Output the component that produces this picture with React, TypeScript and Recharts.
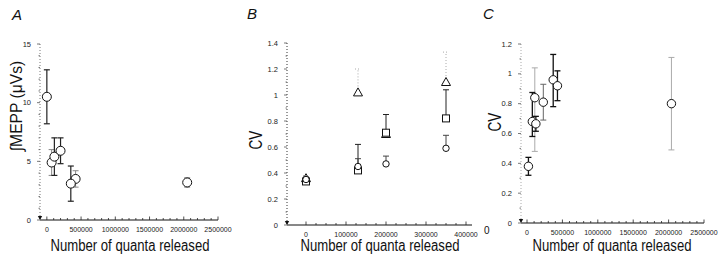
import { ErrorBar, Scatter, ScatterChart, XAxis, YAxis } from "recharts";

// ---- Panel A: integrated MEPP vs quanta released ----
const aQuantaDark = [0, 110000, 200000, 350000];
const aMeppDark = [10.5, 5.4, 5.9, 3.1];
const aErrDark = [2.3, 1.6, 1.1, 1.5];
const aQuantaLight = [70000, 420000, 2050000];
const aMeppLight = [4.9, 3.5, 3.2];
const aErrLight = [1.1, 0.7, 0.4];
const aXLabels = [0, 500000, 1000000, 1500000, 2000000, 2500000];
const aYLabels = [0, 5, 10, 15];

// ---- Panel B: CV, three symbol groups, upward error only ----
const bQuanta = [0, 130000, 200000, 350000];
const bCircle = [0.35, 0.45, 0.47, 0.59];
const bCircleErr = [0.02, 0.06, 0.06, 0.1];
const bSquare = [0.335, 0.42, 0.71, 0.82];
const bSquareErr = [0.02, 0.2, 0.14, 0.22];
const bTriangle = [0.36, 1.02, 0.7, 1.1];
const bTriangleErr = [0.02, 0.18, 0.03, 0.23];
const bXLabels = [0, 100000, 200000, 300000, 400000];
const bYLabels = [0, 0.2, 0.4, 0.6, 0.8, 1, 1.2, 1.4];

// ---- Panel C: CV vs quanta released ----
const cQuantaDark = [20000, 75000, 125000, 370000, 430000];
const cCvDark = [0.38, 0.68, 0.665, 0.96, 0.92];
const cErrDark = [[0.06, 0.06], [0.1, 0.195], [0.05, 0.05], [0.18, 0.17], [0.1, 0.1]];
const cQuantaGray = [230000];
const cCvGray = [0.81];
const cErrGray = [[0.12, 0.12]];
const cQuantaLight = [110000, 2040000];
const cCvLight = [0.84, 0.8];
const cErrLight = [[0.36, 0.2], [0.31, 0.31]];
const cXLabels = [0, 500000, 1000000, 1500000, 2000000, 2500000];
const cYLabels = [0, 0.2, 0.4, 0.6, 0.8, 1, 1.2];

const SANS = "'Liberation Sans', Arial, Helvetica, sans-serif";

const zip = (xs: number[], ys: number[], es: (number | number[])[]) =>
  xs.map((x, i) => ({ x, y: ys[i], err: es[i] }));

const upOnly = (es: number[]) => es.map((e) => [0, e]);

// minor tick positions (axis decoration only)
function steps(from: number, to: number, step: number) {
  const out: number[] = [];
  for (let v = from; v <= to + step / 1000; v += step) out.push(Math.round(v * 1000) / 1000);
  return out;
}

const isIn = (list: number[], v: number) => list.some((l) => Math.abs(l - v) < 1e-6);
const fmtY = (v: number) => String(Math.round(v * 10) / 10);

function XTick(props: any) {
  const { x, y, payload, labels } = props;
  const major = isIn(labels, payload.value);
  return (
    <g>
      <line x1={x} x2={x} y1={y} y2={y - (major ? 3.5 : 2)} stroke="#222" strokeWidth={0.8} />
      {major && (
        <text x={x} y={y + 12} textAnchor="middle" fontSize={7} fontFamily={SANS} fill="#222">
          {payload.value}
        </text>
      )}
    </g>
  );
}

function YTick(props: any) {
  const { x, y, payload, labels } = props;
  const v = payload.value;
  const major = isIn(labels, v);
  return (
    <g>
      <line x1={x} x2={x - (major ? 3 : 1.5)} y1={y} y2={y} stroke="#555" strokeWidth={0.8} />
      {major && (
        <text x={x - 9} y={y + 2.5} textAnchor="end" fontSize={7.5} fontFamily={SANS} fill="#222">
          {fmtY(v)}
        </text>
      )}
      {v === 0 && <polygon points={`${x - 2.2},${y - 4} ${x + 2.2},${y - 4} ${x},${y}`} fill="#111" />}
    </g>
  );
}

const circle = (r: number) => (p: any) =>
  <circle cx={p.cx} cy={p.cy} r={r} fill="#fff" stroke="#111" strokeWidth={1} />;

const square = (p: any) =>
  <rect x={p.cx - 3.5} y={p.cy - 3.5} width={7} height={7} fill="#fff" stroke="#111" strokeWidth={1} />;

const triangle = (p: any) =>
  <polygon
    points={`${p.cx},${p.cy - 4.5} ${p.cx + 4.5},${p.cy + 3.5} ${p.cx - 4.5},${p.cy + 3.5}`}
    fill="#fff"
    stroke="#111"
    strokeWidth={1}
  />;

const W = 720;
const H = 268;
const layer = { position: "absolute" as const, left: 0, top: 0 };

function label(text: string, left: number, top: number, style: any = {}) {
  return (
    <div style={{ position: "absolute", left, top, whiteSpace: "nowrap", lineHeight: 1, color: "#111", ...style }}>
      {text}
    </div>
  );
}

// tall, condensed axis titles like the scanned figure
const xTitle = { fontSize: 16, transform: "translateX(-50%) scaleX(0.82)" };
const yTitle = (sx: number) => ({ transform: `translate(-50%, -50%) rotate(-90deg) scaleX(${sx})` });

export default function App() {
  return (
    <div style={{ position: "absolute", left: 0, top: 0, width: W, height: H, background: "#fff", fontFamily: SANS }}>
      {/* A */}
      <div style={layer}>
        <ScatterChart width={W} height={H} margin={{ top: 44, right: 502, bottom: 18, left: 10 }}>
          <XAxis
            type="number"
            dataKey="x"
            domain={[-100000, 2500000]}
            allowDataOverflow
            ticks={steps(0, 2500000, 100000)}
            interval={0}
            tickSize={0}
            tickMargin={0}
            height={30}
            axisLine={{ stroke: "#111", strokeWidth: 1 }}
            tickLine={false}
            tick={<XTick labels={aXLabels} />}
          />
          <YAxis
            type="number"
            dataKey="y"
            domain={[0, 15]}
            allowDataOverflow
            ticks={steps(0, 15, 1)}
            interval={0}
            tickSize={0}
            tickMargin={0}
            width={30}
            axisLine={{ stroke: "#777", strokeDasharray: "1 2" }}
            tickLine={false}
            tick={<YTick labels={aYLabels} />}
          />
          <Scatter data={zip(aQuantaLight, aMeppLight, aErrLight)} shape={circle(4.5)} isAnimationActive={false}>
            <ErrorBar dataKey="err" direction="y" width={3} stroke="#888" strokeWidth={1} />
          </Scatter>
          <Scatter data={zip(aQuantaDark, aMeppDark, aErrDark)} shape={circle(4.5)} isAnimationActive={false}>
            <ErrorBar dataKey="err" direction="y" width={3} stroke="#222" strokeWidth={1.2} />
          </Scatter>
        </ScatterChart>
      </div>

      {/* B */}
      <div style={layer}>
        <ScatterChart width={W} height={H} margin={{ top: 43, right: 248, bottom: 13, left: 257 }}>
          <XAxis
            type="number"
            dataKey="x"
            domain={[-47500, 415000]}
            allowDataOverflow
            ticks={steps(0, 400000, 25000)}
            interval={0}
            tickSize={0}
            tickMargin={0}
            height={30}
            axisLine={{ stroke: "#111", strokeWidth: 1 }}
            tickLine={false}
            tick={<XTick labels={bXLabels} />}
          />
          <YAxis
            type="number"
            dataKey="y"
            domain={[0, 1.4]}
            allowDataOverflow
            ticks={steps(0, 1.4, 0.1)}
            interval={0}
            tickSize={0}
            tickMargin={0}
            width={30}
            axisLine={{ stroke: "#333", strokeDasharray: "1 2" }}
            tickLine={false}
            tick={<YTick labels={bYLabels} />}
          />
          <Scatter data={zip(bQuanta, bTriangle, upOnly(bTriangleErr))} shape={triangle} isAnimationActive={false}>
            <ErrorBar dataKey="err" direction="y" width={3} stroke="#aaa" strokeDasharray="1 2" strokeWidth={1} />
          </Scatter>
          <Scatter data={zip(bQuanta, bSquare, upOnly(bSquareErr))} shape={square} isAnimationActive={false}>
            <ErrorBar dataKey="err" direction="y" width={3} stroke="#222" strokeWidth={1} />
          </Scatter>
          <Scatter data={zip(bQuanta, bCircle, upOnly(bCircleErr))} shape={circle(3.2)} isAnimationActive={false}>
            <ErrorBar dataKey="err" direction="y" width={3} stroke="#444" strokeWidth={1} />
          </Scatter>
        </ScatterChart>
      </div>

      {/* C */}
      <div style={layer}>
        <ScatterChart width={W} height={H} margin={{ top: 44, right: 16, bottom: 15, left: 491 }}>
          <XAxis
            type="number"
            dataKey="x"
            domain={[-85000, 2500000]}
            allowDataOverflow
            ticks={steps(0, 2500000, 100000)}
            interval={0}
            tickSize={0}
            tickMargin={0}
            height={30}
            axisLine={{ stroke: "#111", strokeWidth: 1 }}
            tickLine={false}
            tick={<XTick labels={cXLabels} />}
          />
          <YAxis
            type="number"
            dataKey="y"
            domain={[0, 1.2]}
            allowDataOverflow
            ticks={steps(0, 1.2, 0.1)}
            interval={0}
            tickSize={0}
            tickMargin={0}
            width={30}
            axisLine={{ stroke: "#aaa", strokeDasharray: "1 2" }}
            tickLine={false}
            tick={<YTick labels={cYLabels} />}
          />
          <Scatter data={zip(cQuantaLight, cCvLight, cErrLight)} shape={circle(4.2)} isAnimationActive={false}>
            <ErrorBar dataKey="err" direction="y" width={3} stroke="#aaa" strokeWidth={1} />
          </Scatter>
          <Scatter data={zip(cQuantaGray, cCvGray, cErrGray)} shape={circle(4.2)} isAnimationActive={false}>
            <ErrorBar dataKey="err" direction="y" width={3} stroke="#666" strokeWidth={1} />
          </Scatter>
          <Scatter data={zip(cQuantaDark, cCvDark, cErrDark)} shape={circle(4.2)} isAnimationActive={false}>
            <ErrorBar dataKey="err" direction="y" width={3} stroke="#111" strokeWidth={1.3} />
          </Scatter>
        </ScatterChart>
      </div>

      {/* panel letters */}
      {label("A", 12, 7, { fontSize: 15, fontStyle: "italic" })}
      {label("B", 247, 6, { fontSize: 15, fontStyle: "italic" })}
      {label("C", 483, 6, { fontSize: 15, fontStyle: "italic" })}

      {/* axis titles */}
      {label("Number of quanta released", 130, 238, xTitle)}
      {label("Number of quanta released", 380, 238, xTitle)}
      {label("Number of quanta released", 612, 238, xTitle)}
      {label("∫MEPP (μVs)", 16, 106, { fontSize: 17, ...yTitle(0.92) })}
      {label("CV", 256, 140, { fontSize: 18, ...yTitle(0.75) })}
      {label("CV", 495, 122, { fontSize: 18, ...yTitle(0.75) })}
      {label("0", 484, 226, { fontSize: 10 })}
    </div>
  );
}
